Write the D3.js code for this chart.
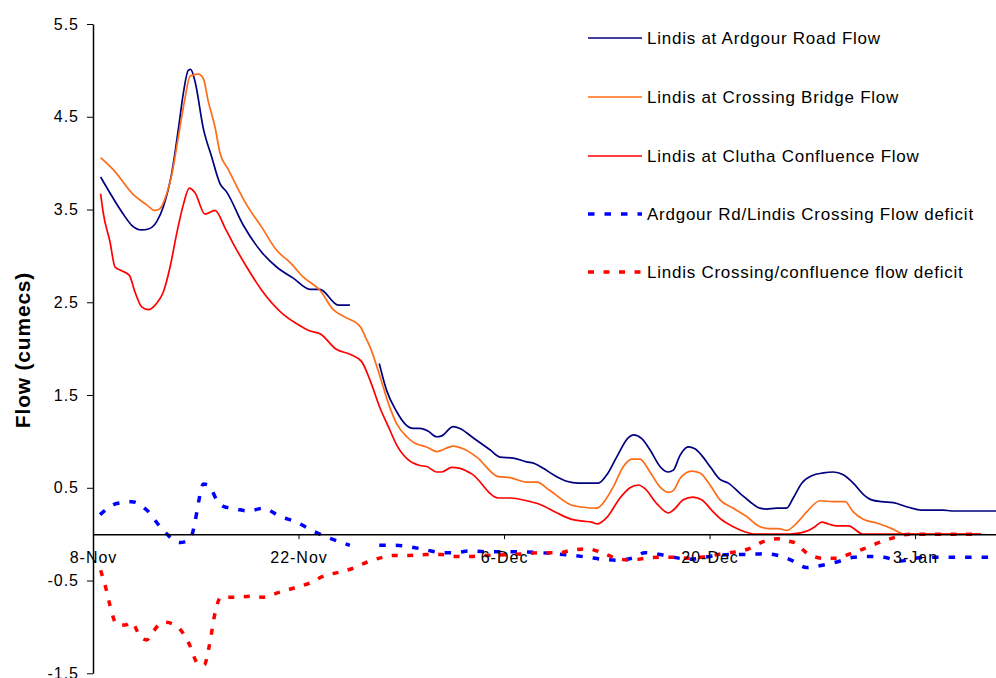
<!DOCTYPE html>
<html>
<head>
<meta charset="utf-8">
<script src="https://cdn.jsdelivr.net/npm/d3@7"></script>
<style>
  html, body { margin: 0; padding: 0; background: #fff; }
  svg { display: block; }
  text { font-family: "Liberation Sans", Arial, sans-serif; fill: #000; }
</style>
</head>
<body>
<svg id="chart" width="996" height="678"></svg>
<script>
// ---------- DATA ----------
const startDate = "2008-11-08";
const xTickDates = ["2008-11-08", "2008-11-22", "2008-12-06", "2008-12-20", "2009-01-03"];
const yTicks = [-1.5, -0.5, 0.5, 1.5, 2.5, 3.5, 4.5, 5.5];
const yTitle = "Flow (cumecs)";
const seriesNames = [
  "Lindis at Ardgour Road Flow",
  "Lindis at Crossing Bridge Flow",
  "Lindis at Clutha Confluence Flow",
  "Ardgour Rd/Lindis Crossing Flow deficit",
  "Lindis Crossing/confluence flow deficit"
];
// [days since 8-Nov, flow]
const ardgour = [[0.52,3.85],[1.3,3.64],[2.02,3.46],[2.64,3.33],[3.32,3.28],[3.77,3.29],[4.34,3.37],[4.79,3.53],[5.36,3.89],[5.81,4.36],[6.15,4.75],[6.49,5.0],[6.65,5.01],[6.95,4.88],[7.52,4.37],[8.08,4.07],[8.65,3.78],[9.1,3.69],[10.24,3.33],[11.49,3.04],[12.51,2.88],[13.64,2.76],[14.78,2.64],[15.46,2.64],[16.71,2.47],[17.5,2.47],[18.5,null],[19.5,1.84],[20.0,1.55],[20.69,1.32],[21.25,1.19],[21.82,1.14],[22.27,1.14],[22.84,1.11],[23.41,1.05],[23.75,1.06],[24.54,1.16],[25.0,1.14],[25.8,1.05],[27.04,0.91],[27.72,0.83],[28.63,0.82],[29.54,0.78],[30.11,0.76],[30.67,0.71],[31.47,0.63],[32.27,0.57],[33.06,0.55],[34.42,0.55],[35.0,0.64],[35.67,0.83],[36.47,1.04],[36.81,1.07],[37.38,1.03],[37.94,0.91],[38.62,0.73],[39.19,0.67],[39.53,0.69],[39.99,0.85],[40.55,0.94],[41.0,0.92],[41.46,0.85],[42.03,0.73],[42.71,0.59],[43.28,0.55],[44.07,0.44],[44.75,0.35],[45.44,0.28],[45.89,0.27],[46.57,0.28],[47.25,0.28],[47.7,0.39],[48.28,0.55],[48.96,0.63],[49.75,0.66],[50.43,0.67],[51.11,0.64],[51.79,0.55],[52.47,0.43],[53.04,0.37],[53.73,0.35],[54.52,0.34],[55.54,0.29],[56.45,0.26],[57.92,0.26],[58.49,0.25],[61.6,0.25]];
const crossing = [[0.52,4.06],[1.38,3.93],[2.75,3.66],[3.66,3.55],[4.22,3.49],[4.56,3.51],[5.02,3.67],[5.36,3.87],[5.81,4.28],[6.27,4.70],[6.61,4.94],[7.17,4.96],[7.52,4.91],[7.86,4.66],[8.31,4.39],[8.65,4.11],[9.22,3.93],[9.79,3.75],[10.47,3.55],[11.49,3.31],[12.51,3.06],[13.42,2.93],[14.33,2.77],[15.46,2.63],[16.37,2.42],[17.17,2.34],[18.19,2.24],[18.6,2.11],[18.87,2.02],[19.55,1.70],[20.12,1.41],[20.69,1.19],[21.37,1.05],[21.93,0.98],[22.73,0.94],[23.41,0.89],[24.54,0.95],[25.22,0.92],[26.14,0.83],[27.61,0.62],[28.4,0.61],[29.54,0.56],[30.22,0.56],[31.13,0.47],[32.49,0.32],[33.4,0.29],[34.31,0.28],[34.54,0.30],[35.44,0.51],[36.13,0.73],[36.7,0.81],[37.26,0.81],[37.94,0.67],[38.62,0.51],[39.19,0.45],[39.53,0.47],[39.99,0.60],[40.78,0.68],[41.35,0.66],[42.03,0.53],[42.71,0.37],[43.62,0.28],[44.53,0.19],[45.44,0.08],[46.12,0.06],[46.68,0.06],[47.25,0.04],[47.94,0.12],[48.73,0.26],[49.52,0.36],[50.43,0.35],[51.23,0.35],[51.79,0.24],[52.47,0.16],[53.38,0.12],[54.41,0.06],[55.31,0.0],[60.5,0.0]];
const confluence = [[0.52,3.67],[0.7,3.46],[1.16,3.15],[1.5,2.88],[1.95,2.84],[2.48,2.79],[2.86,2.61],[3.32,2.45],[3.77,2.42],[4.34,2.49],[4.79,2.61],[5.25,2.88],[5.7,3.24],[6.15,3.55],[6.56,3.73],[6.95,3.68],[7.63,3.45],[8.31,3.49],[9.0,3.30],[9.56,3.13],[10.47,2.88],[11.49,2.63],[12.96,2.37],[13.87,2.27],[14.78,2.19],[15.46,2.16],[16.6,1.99],[17.5,1.94],[18.3,1.86],[18.87,1.66],[19.55,1.36],[20.12,1.16],[20.69,0.96],[21.48,0.80],[22.27,0.74],[22.73,0.73],[23.41,0.67],[23.75,0.67],[24.43,0.72],[25.0,0.71],[25.8,0.65],[27.61,0.39],[28.4,0.39],[29.54,0.36],[30.45,0.32],[31.59,0.23],[32.61,0.16],[33.4,0.14],[33.97,0.13],[34.35,0.11],[35.0,0.18],[35.9,0.39],[36.58,0.50],[37.15,0.53],[37.6,0.49],[38.4,0.33],[39.19,0.23],[39.53,0.26],[40.21,0.37],[40.85,0.40],[41.46,0.37],[42.25,0.24],[42.71,0.17],[43.62,0.08],[44.75,0.01],[45.1,0.0],[47.48,0.0],[48.73,0.04],[49.18,0.08],[49.64,0.13],[50.09,0.11],[50.66,0.09],[51.45,0.09],[52.47,0.0],[60.5,0.0]];
const deficitArdCross = [[0.48,0.21],[1.61,0.33],[2.64,0.35],[3.66,0.26],[4.79,0.04],[5.93,-0.09],[6.61,-0.05],[6.95,0.13],[7.17,0.33],[7.52,0.54],[7.86,0.53],[8.43,0.37],[8.88,0.30],[9.79,0.27],[10.58,0.25],[11.6,0.28],[12.74,0.19],[13.87,0.13],[14.9,0.04],[15.92,-0.03],[16.94,-0.09],[17.5,-0.12],[18.5,null],[19.5,-0.12],[20.5,-0.12],[21.7,-0.14],[22.7,-0.17],[23.75,-0.20],[24.66,-0.20],[25.68,-0.18],[26.7,-0.19],[28.5,-0.19],[30.5,-0.20],[32.72,-0.23],[33.74,-0.25],[34.65,-0.27],[35.67,-0.28],[36.7,-0.26],[37.6,-0.20],[38.62,-0.22],[39.53,-0.25],[40.67,-0.27],[42.0,-0.24],[43.5,-0.22],[44.75,-0.22],[45.66,-0.21],[46.68,-0.23],[47.7,-0.29],[48.6,-0.36],[49.5,-0.34],[50.66,-0.30],[51.79,-0.25],[52.9,-0.24],[53.9,-0.25],[55.0,-0.29],[56.0,-0.26],[57.0,-0.25],[61.6,-0.25]];
const deficitCrossConf = [[0.52,-0.39],[0.89,-0.59],[1.16,-0.77],[1.61,-0.97],[2.2,-0.98],[2.64,-0.95],[3.2,-1.10],[3.66,-1.14],[4.1,-1.05],[4.61,-0.96],[4.9,-0.95],[5.7,-0.99],[6.54,-1.18],[7.17,-1.40],[7.58,-1.41],[7.9,-1.22],[8.33,-0.84],[8.7,-0.68],[9.69,-0.68],[10.74,-0.67],[11.53,-0.68],[12.63,-0.63],[13.69,-0.58],[14.71,-0.53],[15.74,-0.45],[16.76,-0.41],[17.67,-0.37],[18.69,-0.30],[19.71,-0.25],[20.5,-0.23],[21.5,-0.23],[22.7,-0.22],[23.75,-0.22],[24.66,-0.24],[25.68,-0.24],[26.7,-0.23],[28.5,-0.22],[30.67,-0.20],[31.7,-0.20],[32.72,-0.17],[33.74,-0.16],[34.65,-0.20],[35.67,-0.26],[36.7,-0.28],[37.6,-0.26],[38.62,-0.25],[39.53,-0.25],[40.67,-0.26],[41.8,-0.24],[42.9,-0.21],[44.64,-0.16],[45.66,-0.08],[46.62,-0.05],[47.25,-0.07],[47.9,-0.10],[48.6,-0.20],[49.75,-0.26],[50.66,-0.26],[51.6,-0.21],[52.47,-0.16],[53.38,-0.10],[54.52,-0.04],[55.6,0.0],[60.5,0.0]];

// ---------- LAYOUT / STYLE ----------
const svg = d3.select("#chart");
const t0 = new Date(startDate + "T00:00:00Z");
const dayMs = 864e5;
const toDate = d => new Date(t0.getTime() + d * dayMs);

const plotLeft = 93;
const pxPerDay = 14.68;
const domainDays = 62;
const x = d3.scaleUtc()
  .domain([t0, toDate(domainDays)])
  .range([plotLeft, plotLeft + domainDays * pxPerDay]);
const y = d3.scaleLinear().domain([-1.5, 5.5]).range([673.3, 24]);

const styles = [
  { data: ardgour,          color: "#000080", width: 1.7, dash: null },
  { data: crossing,         color: "#ff6c17", width: 1.7, dash: null },
  { data: confluence,       color: "#ff0000", width: 1.7, dash: null },
  { data: deficitArdCross,  color: "#0000ff", width: 3.5, dash: "6.5,10" },
  { data: deficitCrossConf, color: "#ff0000", width: 3.5, dash: "6,9.5" }
];

const line = d3.line()
  .defined(d => d[1] !== null)
  .x(d => x(toDate(d[0])))
  .y(d => y(d[1]))
  .curve(d3.curveMonotoneX);

const plot = svg.append("g");
styles.forEach(s => {
  plot.append("path")
    .attr("d", line(s.data))
    .attr("fill", "none")
    .attr("stroke", s.color)
    .attr("stroke-width", s.width)
    .attr("stroke-linejoin", "round")
    .attr("stroke-dasharray", s.dash);
});

// ---------- AXES ----------
const yAxis = d3.axisLeft(y)
  .tickValues(yTicks)
  .tickFormat(d => d.toFixed(1))
  .tickSize(6)
  .tickSizeOuter(0)
  .tickPadding(8);
const gy = svg.append("g").attr("transform", `translate(${plotLeft},0)`).call(yAxis);

const xAxis = d3.axisBottom(x)
  .tickValues(xTickDates.map(s => new Date(s + "T00:00:00Z")))
  .tickFormat(d3.utcFormat("%-d-%b"))
  .tickSize(5)
  .tickSizeOuter(0)
  .tickPadding(12);
const gx = svg.append("g").attr("transform", `translate(0,${y(0)})`).call(xAxis);

[gx, gy].forEach(g => {
  g.select(".domain").attr("stroke", "#000").attr("stroke-width", 1.5);
  g.selectAll(".tick line").attr("stroke", "#000").attr("stroke-width", 1);
  g.selectAll(".tick text")
    .attr("fill", "#000")
    .style("font-family", '"Liberation Sans", Arial, sans-serif')
    .style("font-size", "16px")
    .style("letter-spacing", "1px");
});

svg.append("text")
  .attr("transform", `translate(30,350) rotate(-90)`)
  .attr("text-anchor", "middle")
  .style("font-size", "21px")
  .style("font-weight", "bold")
  .style("letter-spacing", "0.8px")
  .text(yTitle);

// ---------- LEGEND ----------
const legendY = [38, 97, 156, 214, 272];
const lg = svg.append("g");
styles.forEach((s, i) => {
  lg.append("line")
    .attr("x1", 588).attr("x2", 642)
    .attr("y1", legendY[i]).attr("y2", legendY[i])
    .attr("stroke", s.color)
    .attr("stroke-width", s.dash ? 3.5 : 1.7)
    .attr("stroke-dasharray", s.dash);
  lg.append("text")
    .attr("x", 647).attr("y", legendY[i])
    .attr("dy", "0.36em")
    .style("font-size", "17px")
    .style("letter-spacing", "0.75px")
    .text(seriesNames[i]);
});
</script>
</body>
</html>
